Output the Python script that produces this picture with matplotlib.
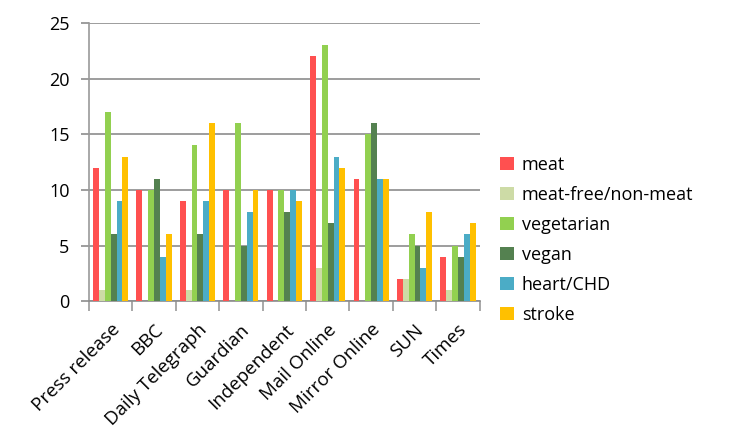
import matplotlib
matplotlib.use("Agg")
import matplotlib.pyplot as plt
import numpy as np
from matplotlib.patches import Patch

outlets = ["Press release", "BBC", "Daily Telegraph", "Guardian", "Independent",
           "Mail Online", "Mirror Online", "SUN", "Times"]
meat = [12, 10, 9, 10, 10, 22, 11, 2, 4]
meat_free = [1, 0, 1, 0, 0, 3, 0, 2, 1]
vegetarian = [17, 10, 14, 16, 10, 23, 15, 6, 5]
vegan = [6, 11, 6, 5, 8, 7, 16, 5, 4]
heart = [9, 4, 9, 8, 10, 13, 11, 3, 6]
stroke = [13, 6, 16, 10, 9, 12, 11, 8, 7]

series = [
    ("meat", meat, "#ff5050"),
    ("meat-free/non-meat", meat_free, "#cddba6"),
    ("vegetarian", vegetarian, "#92d050"),
    ("vegan", vegan, "#548150"),
    ("heart/CHD", heart, "#4bacc6"),
    ("stroke", stroke, "#ffc000"),
]

plt.rcParams["font.family"] = ["Open Sans", "DejaVu Sans"]

fig = plt.figure(figsize=(7.29, 4.41), dpi=100)
ax = fig.add_axes([0.122, 0.317, 0.536, 0.631])

x = np.arange(len(outlets))
w = 0.135
for i, (name, vals, col) in enumerate(series):
    ax.bar(x + (i - 2.5) * w, vals, width=w, color=col, label=name, zorder=3)

ax.set_xlim(-0.5, len(outlets) - 0.5)
ax.set_ylim(0, 25)
ax.set_yticks(range(0, 26, 5))
ax.yaxis.grid(True, color="#8c8c8c", linewidth=1.2, zorder=0)
ax.set_axisbelow(True)

for s in ["top", "right"]:
    ax.spines[s].set_visible(False)
ax.spines["left"].set_color("#999999")
ax.spines["bottom"].set_color("#8c8c8c")
ax.spines["left"].set_linewidth(1.2)
ax.spines["bottom"].set_linewidth(1.2)

ax.tick_params(axis="y", length=6, color="#8c8c8c", width=1.2, labelsize=13, pad=8)
ax.set_xticks(x)
ax.set_xticklabels(outlets, rotation=45, ha="right", rotation_mode="anchor", fontsize=13.5)
ax.tick_params(axis="x", which="major", length=0, pad=14)
ax.set_xticks(np.arange(-0.5, len(outlets)), minor=True)
ax.tick_params(axis="x", which="minor", length=7, color="#999999", width=1.2)

handles = [Patch(facecolor=c, label=n) for n, _, c in series]
fig.legend(handles=handles, loc="center left", bbox_to_anchor=(0.664, 0.456),
           frameon=False, fontsize=13, handlelength=0.75, handleheight=0.75,
           handletextpad=0.45, labelspacing=0.66)

fig.savefig("out.png", dpi=100)
